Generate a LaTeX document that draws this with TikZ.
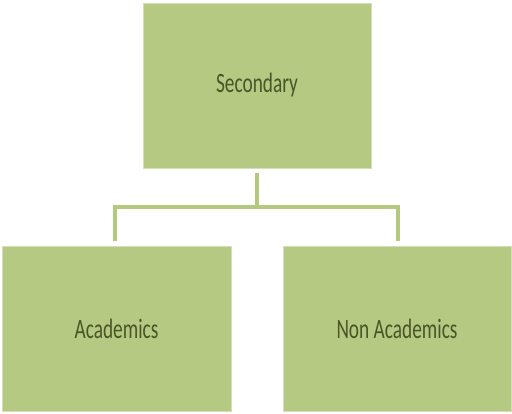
\documentclass[tikz,border=0pt]{standalone}
\usepackage{fontspec}
\setmainfont{Carlito}
\definecolor{boxfill}{HTML}{B5C982}
\definecolor{boxtext}{HTML}{4A5528}
\definecolor{linecol}{HTML}{B3C97E}
\begin{document}
\begin{tikzpicture}[x=1pt,y=-1pt,
  orgbox/.style={draw=boxfill!60!white,line width=0.6pt,fill=boxfill,inner sep=0pt,
    font=\fontsize{28}{30}\selectfont,text=boxtext},
  link/.style={draw=linecol,line width=3.5pt}]
\useasboundingbox (0,0) rectangle (512,413);
\node[orgbox,minimum width=228,minimum height=165] (sec) at (257,85.5) {\scalebox{0.69}[1]{Secondary}};
\node[orgbox,minimum width=229,minimum height=165] (aca) at (116.5,328.5) {\scalebox{0.69}[1]{Academics}};
\node[orgbox,minimum width=228,minimum height=165] (non) at (397,328.5) {\scalebox{0.69}[1]{Non Academics}};
\coordinate (top) at (257,173);
\coordinate (mid) at (257,207);
\coordinate (la) at (115,207);
\coordinate (ra) at (398,207);
\coordinate (lb) at (115,241);
\coordinate (rb) at (398,241);
\draw[link] (top) -- (mid);
\draw[link] (lb) -- (la) -- (ra) -- (rb);
\end{tikzpicture}
\end{document}
